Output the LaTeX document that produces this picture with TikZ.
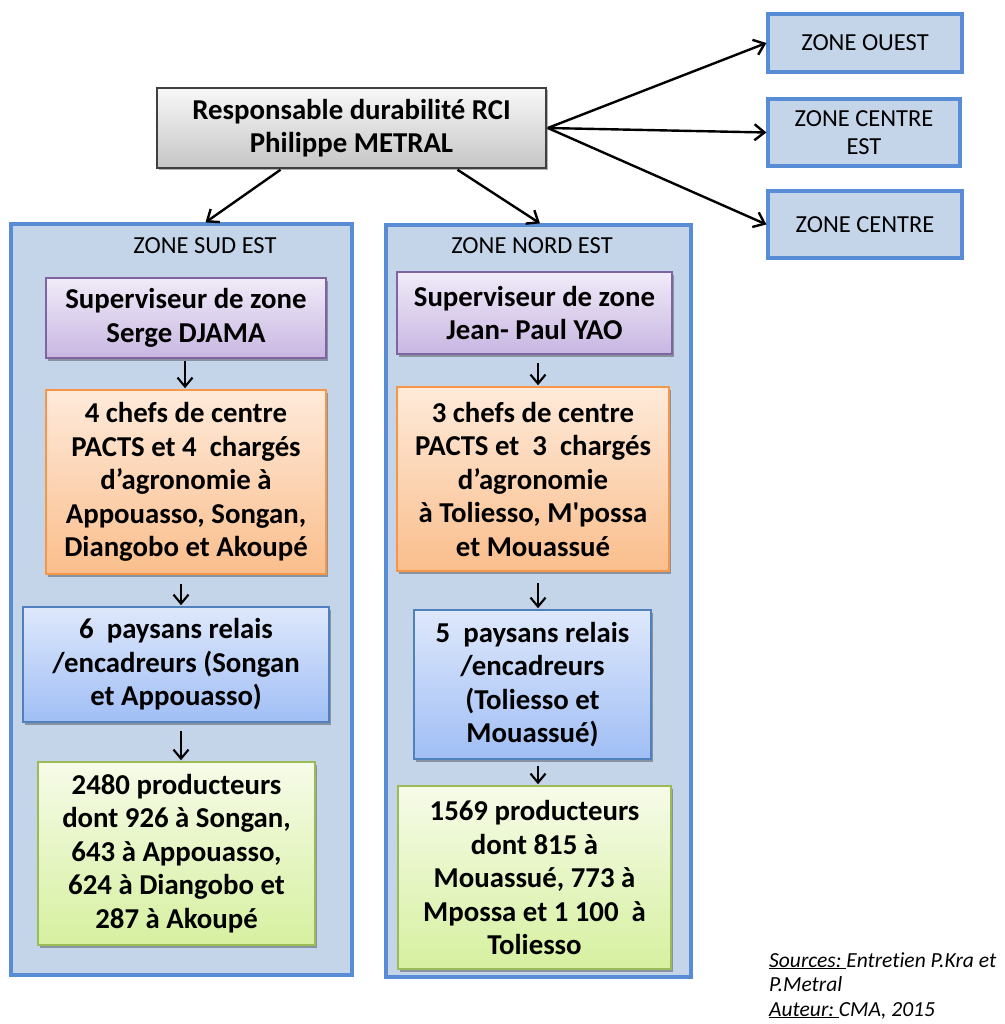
\documentclass[tikz,border=0pt]{standalone}
\usepackage{fontspec}
\setmainfont{Carlito}[Ligatures={NoCommon}]
\usetikzlibrary{arrows.meta,shadows}
\definecolor{zonefill}{RGB}{196,212,233}
\definecolor{zoneborder}{RGB}{88,140,212}
\definecolor{purpborder}{RGB}{128,100,162}
\definecolor{orgborder}{RGB}{247,150,70}
\definecolor{blueborder}{RGB}{79,129,189}
\definecolor{greenborder}{RGB}{155,187,89}
\tikzset{
  zonebox/.style={draw=zoneborder, line width=3.2pt, fill=zonefill, inner sep=0pt},
  smallzone/.style={zonebox, font=\fontsize{24.5}{27.5}\selectfont, align=center},
  boxbase/.style={line width=1.5pt, inner sep=0pt, align=center,
    font=\fontsize{28.8}{33.5}\selectfont\bfseries,
    drop shadow={shadow xshift=2pt, shadow yshift=-2.5pt, opacity=0.3, fill=black}},
  respbox/.style={boxbase, draw=black!75, top color=gray!6, bottom color=gray!45},
  purpbox/.style={boxbase, draw=purpborder, top color={rgb,255:red,240;green,235;blue,248}, bottom color={rgb,255:red,200;green,182;blue,226}},
  orgbox/.style={boxbase, draw=orgborder, top color={rgb,255:red,254;green,234;blue,218}, bottom color={rgb,255:red,250;green,190;blue,140}},
  bluebox/.style={boxbase, draw=blueborder, top color={rgb,255:red,222;green,232;blue,251}, bottom color={rgb,255:red,160;green,190;blue,245}},
  greenbox/.style={boxbase, draw=greenborder, top color={rgb,255:red,246;green,251;blue,232}, bottom color={rgb,255:red,214;green,240;blue,160}},
  bigarr/.style={line width=2.4pt, -{Straight Barb[length=10pt,width=16pt,line width=2.4pt]}},
  smallarr/.style={line width=2.1pt, -{Straight Barb[length=9pt,width=15pt,line width=2.1pt]}},
}
\begin{document}
\begin{tikzpicture}[x=1pt,y=-1pt]
\useasboundingbox[fill=white] (0,0) rectangle (1004,1024);

% big zone boxes
\node[zonebox, minimum width=341pt, minimum height=751pt] (se) at (181.5,599.5) {};
\node[zonebox, minimum width=305pt, minimum height=752pt] (ne) at (538.5,601) {};
\node[font=\fontsize{24.5}{27}\selectfont] (selab) at (205,246) {ZONE SUD EST};
\node[font=\fontsize{24.5}{27}\selectfont] (nelab) at (532,246) {ZONE NORD EST};

% top box
\node[respbox, minimum width=389pt, minimum height=80pt] (resp) at (351.5,128)
  {Responsable durabilité RCI\\Philippe METRAL};

% right zone boxes
\node[smallzone, minimum width=194pt, minimum height=58pt] (zo) at (865,43) {ZONE OUEST};
\node[smallzone, minimum width=192pt, minimum height=67pt] (zce) at (864,132.5) {ZONE CENTRE\\EST};
\node[smallzone, minimum width=194pt, minimum height=67pt] (zc) at (865,224.5) {ZONE CENTRE};

% Sud Est column
\node[purpbox, minimum width=280pt, minimum height=80pt] (se1) at (186,318)
  {Superviseur de zone\\Serge DJAMA};
\node[orgbox, minimum width=280pt, minimum height=184pt] (se2) at (186,482)
  {4 chefs de centre\\PACTS et 4~ chargés\\d’agronomie à\\Appouasso, Songan,\\Diangobo et Akoupé};
\node[bluebox, minimum width=306pt, minimum height=115pt] (se3) at (176,664.5)
  {6~ paysans relais\\/encadreurs (Songan\\et Appouasso)};
\node[greenbox, minimum width=277pt, minimum height=183pt] (se4) at (176.5,853.5)
  {2480 producteurs\\dont 926 à Songan,\\643 à Appouasso,\\624 à Diangobo et\\287 à Akoupé};

% Nord Est column
\node[purpbox, minimum width=275pt, minimum height=82pt] (ne1) at (534.5,313)
  {Superviseur de zone\\Jean- Paul YAO};
\node[orgbox, minimum width=272pt, minimum height=184pt] (ne2) at (533,479)
  {3 chefs de centre\\PACTS et~ 3~ chargés\\d’agronomie\\à Toliesso, M\textquotesingle possa\\et Mouassué};
\node[bluebox, minimum width=237pt, minimum height=149pt] (ne3) at (532.5,684.5)
  {5~ paysans relais\\/encadreurs\\(Toliesso et\\Mouassué)};
\node[greenbox, minimum width=273pt, minimum height=183pt] (ne4) at (534.5,877.5)
  {1569 producteurs\\dont 815 à\\Mouassué, 773 à\\Mpossa et 1 100~ à\\Toliesso};

% top arrows
\draw[bigarr] ([xshift=-71pt,yshift=-1pt]resp.south) -- ([xshift=24pt]se.north);
\draw[bigarr] ([xshift=106pt,yshift=-1pt]resp.south) -- ([xshift=1.5pt]ne.north);
\draw[bigarr] ([xshift=1pt]resp.east) -- (zo.west);
\draw[bigarr] ([xshift=1pt]resp.east) -- (zce.west);
\draw[bigarr] ([xshift=1pt]resp.east) -- (zc.west);

% column arrows
\draw[smallarr] ([xshift=-1pt,yshift=-2pt]se1.south) -- ([xshift=-1pt,yshift=1pt]se2.north);
\draw[smallarr] ([xshift=-5pt,yshift=-9pt]se2.south) -- ([xshift=5pt,yshift=1pt]se3.north);
\draw[smallarr] ([xshift=5pt,yshift=-8pt]se3.south) -- ([xshift=4.5pt,yshift=1pt]se4.north);
\draw[smallarr] ([xshift=3.5pt,yshift=-8pt]ne1.south) -- ([xshift=5pt,yshift=1pt]ne2.north);
\draw[smallarr] ([xshift=5pt,yshift=-11pt]ne2.south) -- ([xshift=5.5pt,yshift=1pt]ne3.north);
\draw[smallarr] ([xshift=5.5pt,yshift=-6pt]ne3.south) -- ([xshift=3.5pt,yshift=1pt]ne4.north);

% sources
\node[anchor=north west, align=left, inner sep=0pt, font=\fontsize{21.5}{24.5}\selectfont\itshape] (src) at (769,952)
  {\underline{Sources:\ }Entretien P.Kra et\\P.Metral\\\underline{Auteur:\ }CMA, 2015};
\end{tikzpicture}
\end{document}
